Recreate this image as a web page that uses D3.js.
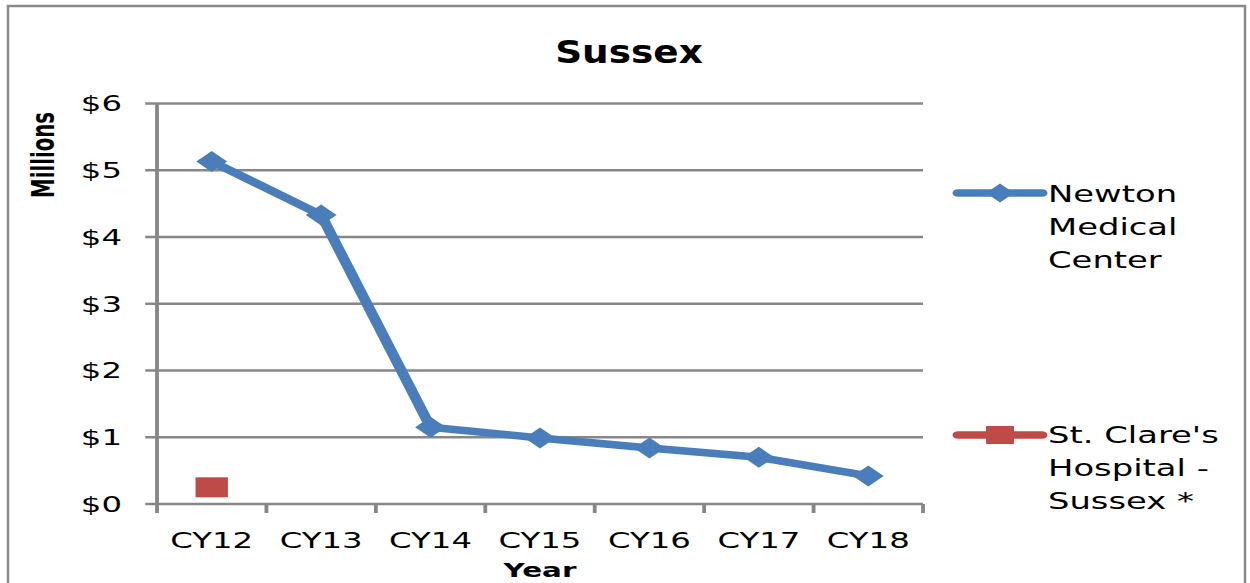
<!DOCTYPE html>
<html>
<head>
<meta charset="utf-8">
<script src="https://cdn.jsdelivr.net/npm/d3@7"></script>
<style>
  body { margin: 0; background: #fff; }
  text { font-family: "DejaVu Sans", Verdana, sans-serif; fill: #000; }
</style>
</head>
<body>
<div class="chart"></div>
<script>
var years = ["CY12", "CY13", "CY14", "CY15", "CY16", "CY17", "CY18"];
var newton = [5.13, 4.33, 1.15, 0.99, 0.84, 0.70, 0.42];
var stClare = [0.25, null, null, null, null, null, null];
var yTicks = [0, 1, 2, 3, 4, 5, 6];
var seriesNames = [["Newton", "Medical", "Center"], ["St. Clare's", "Hospital -", "Sussex *"]];

var svgWidth = 1250, svgHeight = 583;
// the original picture is stretched sideways, so the chart is drawn squeezed and scaled back out
var SX = 1.47;
var X = function (v) { return v / SX; };

var plot = { left: 157, right: 923, top: 103.5, bottom: 504 };

var svg = d3.select(".chart").append("svg")
    .attr("width", svgWidth)
    .attr("height", svgHeight);

// outer frame
svg.append("rect")
    .attr("x", 8).attr("y", 6)
    .attr("width", 1237).attr("height", 620)
    .attr("fill", "none")
    .attr("stroke", "#8a8a8a")
    .attr("stroke-width", 2.5);

svg.append("text")
    .attr("transform", "translate(629,63) scale(1.17,1)")
    .attr("text-anchor", "middle")
    .attr("font-size", "32px")
    .attr("font-weight", "bold")
    .text("Sussex");

var g = svg.append("g").attr("transform", `scale(${SX},1)`);

var xScale = d3.scaleBand()
    .domain(years)
    .range([X(plot.left), X(plot.right)]);

var yScale = d3.scaleLinear()
    .domain([0, 6])
    .range([plot.bottom, plot.top]);

// gridlines
g.append("g").selectAll("line")
    .data(yTicks)
    .enter()
    .append("line")
    .attr("x1", X(plot.left) - 8)
    .attr("x2", X(plot.right))
    .attr("y1", d => yScale(d))
    .attr("y2", d => yScale(d))
    .attr("stroke", "#878787")
    .attr("stroke-width", 2.4);

// y axis line
g.append("line")
    .attr("x1", X(plot.left)).attr("x2", X(plot.left))
    .attr("y1", yScale(6)).attr("y2", yScale(0) + 1)
    .attr("stroke", "#878787")
    .attr("stroke-width", 2.6);

// x axis ticks at category boundaries
var bounds = years.map(d => xScale(d)).concat([xScale.range()[1]]);
g.append("g").selectAll("line")
    .data(bounds)
    .enter()
    .append("line")
    .attr("x1", d => d).attr("x2", d => d)
    .attr("y1", yScale(0)).attr("y2", yScale(0) + 9)
    .attr("stroke", "#878787")
    .attr("stroke-width", 2.6);

// y tick labels
g.append("g").selectAll("text")
    .data(yTicks)
    .enter()
    .append("text")
    .attr("x", X(122))
    .attr("y", d => yScale(d))
    .attr("dy", "0.36em")
    .attr("text-anchor", "end")
    .attr("font-size", "22px")
    .attr("fill", "#1a1a1a")
    .text(d => "$" + d);

// x tick labels
g.append("g").selectAll("text")
    .data(years)
    .enter()
    .append("text")
    .attr("x", d => xScale(d) + xScale.bandwidth() / 2)
    .attr("y", 548)
    .attr("text-anchor", "middle")
    .attr("font-size", "22px")
    .attr("fill", "#1a1a1a")
    .text(d => d);

g.append("text")
    .attr("x", X(540))
    .attr("y", 577)
    .attr("text-anchor", "middle")
    .attr("font-size", "20px")
    .attr("font-weight", "bold")
    .text("Year");

g.append("text")
    .attr("transform", `translate(${X(54)},155) rotate(-90)`)
    .attr("text-anchor", "middle")
    .attr("font-family", "'Liberation Sans', Arial, sans-serif")
    .attr("font-size", "22px")
    .attr("font-weight", "bold")
    .attr("textLength", 86)
    .attr("lengthAdjust", "spacingAndGlyphs")
    .text("Millions");

function diamond(r) {
    return `M0,${-r}L${r},0L0,${r}L${-r},0Z`;
}

var cx = (d, i) => xScale(years[i]) + xScale.bandwidth() / 2;

var line = d3.line()
    .defined(d => d != null)
    .x(cx)
    .y(d => yScale(d));

g.append("path")
    .datum(newton)
    .attr("d", line)
    .attr("fill", "none")
    .attr("stroke", "#4a7ebb")
    .attr("stroke-width", 7.5)
    .attr("stroke-linejoin", "round");

g.append("g").selectAll("path")
    .data(newton)
    .enter()
    .append("path")
    .attr("transform", (d, i) => `translate(${cx(d, i)},${yScale(d)})`)
    .attr("d", diamond(10.5))
    .attr("fill", "#4a7ebb");

g.append("g").selectAll("rect")
    .data(stClare.map((d, i) => ({ v: d, i: i })).filter(d => d.v != null))
    .enter()
    .append("rect")
    .attr("x", d => cx(d.v, d.i) - 11)
    .attr("y", d => yScale(d.v) - 10)
    .attr("width", 22)
    .attr("height", 20)
    .attr("fill", "#be4b48");

// legend
var legend = [
    { color: "#4a7ebb", y: 193, textY: 202 },
    { color: "#be4b48", y: 435, textY: 443 }
];

legend.forEach(function (l, k) {
    var lg = g.append("g");
    lg.append("line")
        .attr("x1", X(958)).attr("x2", X(1042))
        .attr("y1", l.y).attr("y2", l.y)
        .attr("stroke", l.color)
        .attr("stroke-width", 7.5)
        .attr("stroke-linecap", "round");
    if (k === 0) {
        lg.append("path")
            .attr("transform", `translate(${X(1000)},${l.y})`)
            .attr("d", diamond(9.5))
            .attr("fill", l.color);
    } else {
        lg.append("rect")
            .attr("x", X(1000) - 9.5).attr("y", l.y - 9)
            .attr("width", 19).attr("height", 18)
            .attr("fill", l.color);
    }
    lg.selectAll("text")
        .data(seriesNames[k])
        .enter()
        .append("text")
        .attr("x", X(1048))
        .attr("y", (d, j) => l.textY + j * 33)
        .attr("font-size", "23px")
        .attr("fill", "#1a1a1a")
        .text(d => d);
});
</script>
</body>
</html>
